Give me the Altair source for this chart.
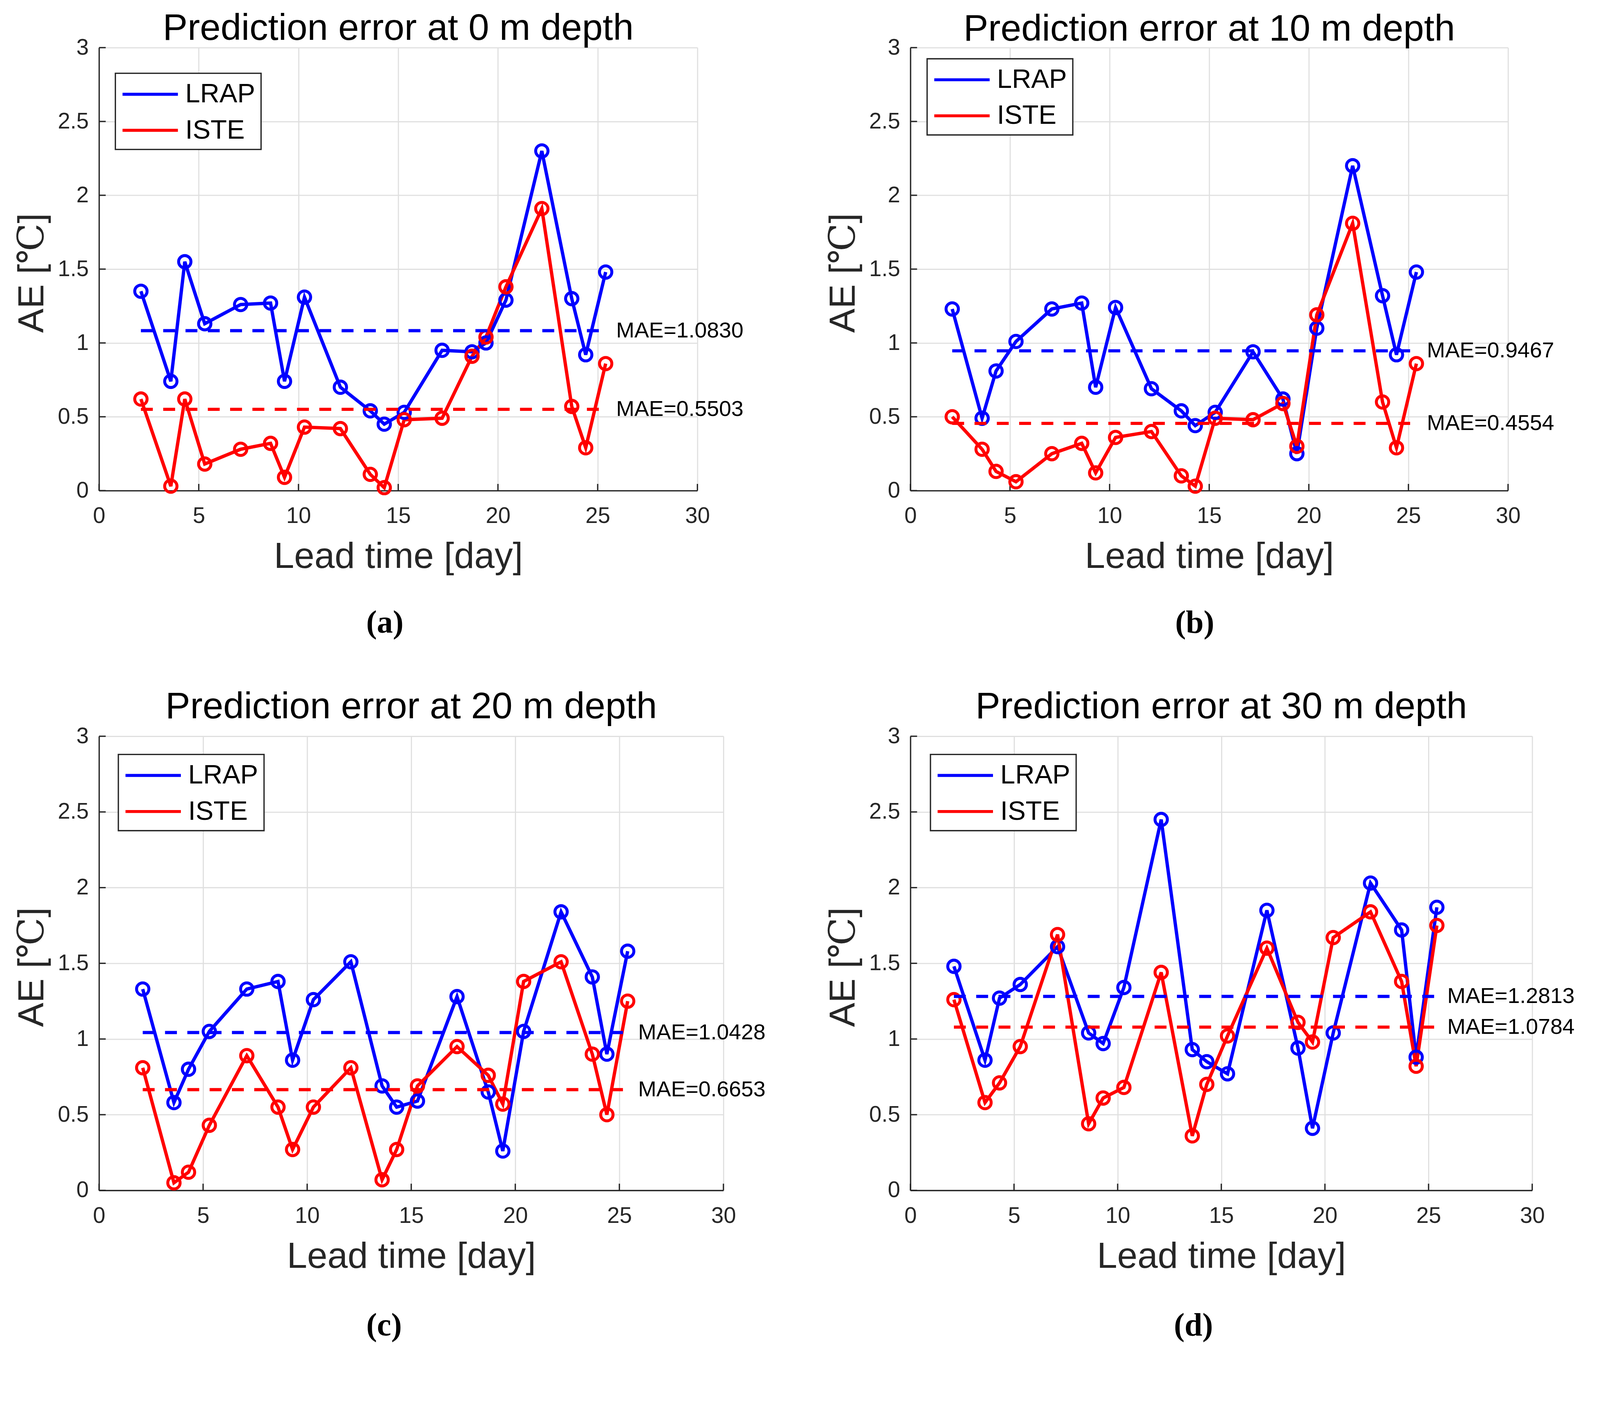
import altair as alt
import pandas as pd

# ---------------- data ----------------
LEAD = [2.1, 3.6, 4.3, 5.3, 7.1, 8.6, 9.3, 10.3, 12.1, 13.6,
        14.3, 15.3, 17.2, 18.7, 19.4, 20.4, 22.2, 23.7, 24.4, 25.4]
SERIES = ["LRAP", "ISTE"]
COLORS = ["#0000ff", "#ff0000"]
DEPTHS = [0, 10, 20, 30]
CAPTIONS = ["(a)", "(b)", "(c)", "(d)"]

LRAP_0 = [1.35, 0.74, 1.55, 1.13, 1.26, 1.27, 0.74, 1.31, 0.70, 0.54,
          0.45, 0.53, 0.95, 0.94, 1.00, 1.29, 2.30, 1.30, 0.92, 1.48]
ISTE_0 = [0.62, 0.03, 0.62, 0.18, 0.28, 0.32, 0.09, 0.43, 0.42, 0.11,
          0.02, 0.48, 0.49, 0.91, 1.04, 1.38, 1.91, 0.57, 0.29, 0.86]
LRAP_10 = [1.23, 0.49, 0.81, 1.01, 1.23, 1.27, 0.70, 1.24, 0.69, 0.54,
           0.44, 0.53, 0.94, 0.62, 0.25, 1.10, 2.20, 1.32, 0.92, 1.48]
ISTE_10 = [0.50, 0.28, 0.13, 0.06, 0.25, 0.32, 0.12, 0.36, 0.40, 0.10,
           0.03, 0.49, 0.48, 0.59, 0.30, 1.19, 1.81, 0.60, 0.29, 0.86]
LRAP_20 = [1.33, 0.58, 0.80, 1.05, 1.33, 1.38, 0.86, 1.26, 1.51, 0.69,
           0.55, 0.59, 1.28, 0.65, 0.26, 1.05, 1.84, 1.41, 0.90, 1.58]
ISTE_20 = [0.81, 0.05, 0.12, 0.43, 0.89, 0.55, 0.27, 0.55, 0.81, 0.07,
           0.27, 0.69, 0.95, 0.76, 0.57, 1.38, 1.51, 0.90, 0.50, 1.25]
LRAP_30 = [1.48, 0.86, 1.27, 1.36, 1.61, 1.04, 0.97, 1.34, 2.45, 0.93,
           0.85, 0.77, 1.85, 0.94, 0.41, 1.04, 2.03, 1.72, 0.88, 1.87]
ISTE_30 = [1.26, 0.58, 0.71, 0.95, 1.69, 0.44, 0.61, 0.68, 1.44, 0.36,
           0.70, 1.02, 1.60, 1.11, 0.98, 1.67, 1.84, 1.38, 0.82, 1.75]

MAE_LRAP = [1.0830, 0.9467, 1.0428, 1.2813]
MAE_ISTE = [0.5503, 0.4554, 0.6653, 1.0784]

X_TICKS = [0, 5, 10, 15, 20, 25, 30]
Y_TICKS = [0, 0.5, 1, 1.5, 2, 2.5, 3]

LRAP = [LRAP_0, LRAP_10, LRAP_20, LRAP_30]
ISTE = [ISTE_0, ISTE_10, ISTE_20, ISTE_30]

# ---------------- layout ----------------
FONT = "Liberation Sans"
AXIS_COLOR = "#262626"
LAYOUT = [
    dict(w=1610, h=1192, title_off=-109, lx=44, ly=69, cdx=-36, cdy=356),
    dict(w=1608, h=1192, title_off=-111, lx=45, ly=30, cdx=-39, cdy=356),
    dict(w=1680, h=1222, title_off=-82, lx=52, ly=49, cdx=-73, cdy=364),
    dict(w=1673, h=1222, title_off=-82, lx=54, ly=49, cdx=-75, cdy=364),
]
TICK_PX = 18


def panel(i):
    L = LAYOUT[i]
    w, h = L["w"], L["h"]
    xscale = alt.Scale(domain=[0, 30], nice=False, zero=False)
    yscale = alt.Scale(domain=[0, 3], nice=False, zero=False)
    xaxis = alt.Axis(values=X_TICKS, title="Lead time [day]", grid=True,
                     ticks=False, tickSize=0, labelPadding=40,
                     titleX=w / 2, titleY=208, titleBaseline="alphabetic",
                     titleAlign="center", format="~g", labelFlush=False)
    yaxis = alt.Axis(values=Y_TICKS, title="AE [℃]", grid=True,
                     ticks=False, tickSize=0, labelPadding=28,
                     titleX=-150, titleY=h / 2 + 10, titleAngle=270,
                     titleBaseline="alphabetic", titleAlign="center",
                     format="~g", labelFlush=False)

    def X(f):
        return alt.X(f, type="quantitative", scale=xscale, axis=xaxis)

    def Y(f):
        return alt.Y(f, type="quantitative", scale=yscale, axis=yaxis)

    df = pd.DataFrame({
        "lead": LEAD + LEAD,
        "ae": LRAP[i] + ISTE[i],
        "series": ["LRAP"] * len(LEAD) + ["ISTE"] * len(LEAD),
    })
    mae = pd.DataFrame({
        "series": SERIES,
        "mae": [MAE_LRAP[i], MAE_ISTE[i]],
        "x0": [LEAD[0], LEAD[0]],
        "x1": [LEAD[-1], LEAD[-1]],
        "label": ["MAE=%.4f" % MAE_LRAP[i], "MAE=%.4f" % MAE_ISTE[i]],
    })
    cscale = alt.Scale(domain=SERIES, range=COLORS)

    legend = alt.Legend(title=None, orient="none", legendX=L["lx"], legendY=L["ly"],
                        symbolType="M-1,0H3", symbolSize=5550, symbolStrokeWidth=8,
                        labelFontSize=72, labelFont=FONT, labelColor="black",
                        labelOffset=90, padding=15, rowPadding=19,
                        strokeColor=AXIS_COLOR, fillColor="white", labelLimit=1000)

    lines = alt.Chart(df).mark_line(strokeWidth=9).encode(
        x=X("lead"), y=Y("ae"),
        color=alt.Color("series:N", scale=cscale, sort=SERIES, legend=legend),
    )
    points = alt.Chart(df).mark_point(shape="circle", filled=False, size=1100,
                                      strokeWidth=8, opacity=1).encode(
        x=X("lead"), y=Y("ae"),
        stroke=alt.Stroke("series:N", scale=cscale, sort=SERIES, legend=None),
    )
    rules = alt.Chart(mae).mark_rule(strokeWidth=8.5, strokeDash=[32, 28]).encode(
        x=X("x0"), x2="x1", y=Y("mae"),
        stroke=alt.Stroke("series:N", scale=cscale, sort=SERIES, legend=None),
    )
    texts = alt.Chart(mae).mark_text(align="left", baseline="middle", dx=28,
                                     fontSize=59, font=FONT, color="black").encode(
        x=X("x1"), y=Y("mae"), text="label:N",
    )
    xt = pd.DataFrame({"t": X_TICKS, "y0": [0] * len(X_TICKS),
                       "y1": [TICK_PX * 3 / h] * len(X_TICKS)})
    yt = pd.DataFrame({"t": Y_TICKS, "x0": [0] * len(Y_TICKS),
                       "x1": [TICK_PX * 30 / w] * len(Y_TICKS)})
    xticks = alt.Chart(xt).mark_rule(color=AXIS_COLOR, strokeWidth=3.5).encode(
        x=X("t"), y=Y("y0"), y2="y1")
    yticks = alt.Chart(yt).mark_rule(color=AXIS_COLOR, strokeWidth=3.5).encode(
        y=Y("t"), x=X("x0"), x2="x1")
    cap = alt.Chart(pd.DataFrame({"cap": [CAPTIONS[i]]})).mark_text(
        font="Liberation Serif", fontWeight="bold", fontSize=86,
        align="center", baseline="middle", color="black").encode(
        x=alt.value(w / 2 + L["cdx"]), y=alt.value(h + L["cdy"]), text="cap:N")

    return alt.layer(xticks, yticks, lines, points, rules, texts, cap).properties(
        width=w, height=h,
        title=alt.TitleParams("Prediction error at %d m depth" % DEPTHS[i],
                              offset=L["title_off"], baseline="alphabetic",
                              anchor="middle", fontSize=100, font=FONT,
                              fontWeight="normal", color="black"),
    )


chart = alt.concat(
    panel(0), panel(1), panel(2), panel(3),
    columns=2, spacing={"row": 631, "column": 503}, bounds="flush", align="all",
).resolve_scale(
    color="independent", stroke="independent",
).resolve_legend(
    color="independent", stroke="independent",
).properties(
    autosize=alt.AutoSizeParams(type="none"),
    padding={"left": 258, "top": 30, "right": 4030, "bottom": 3490},
).configure(
    background="white",
).configure_view(
    stroke=None,
).configure_axis(
    domainColor=AXIS_COLOR, domainWidth=3.5,
    gridColor="#dfdfdf", gridWidth=3,
    labelFont=FONT, labelFontSize=60, labelColor=AXIS_COLOR,
    titleFont=FONT + ", DejaVu Serif", titleFontSize=98, titleColor=AXIS_COLOR,
    titleFontWeight="normal",
).configure_legend(
    strokeWidth=3.5,
)

chart.save("out.html", embed_options={"renderer": "svg", "actions": False})
